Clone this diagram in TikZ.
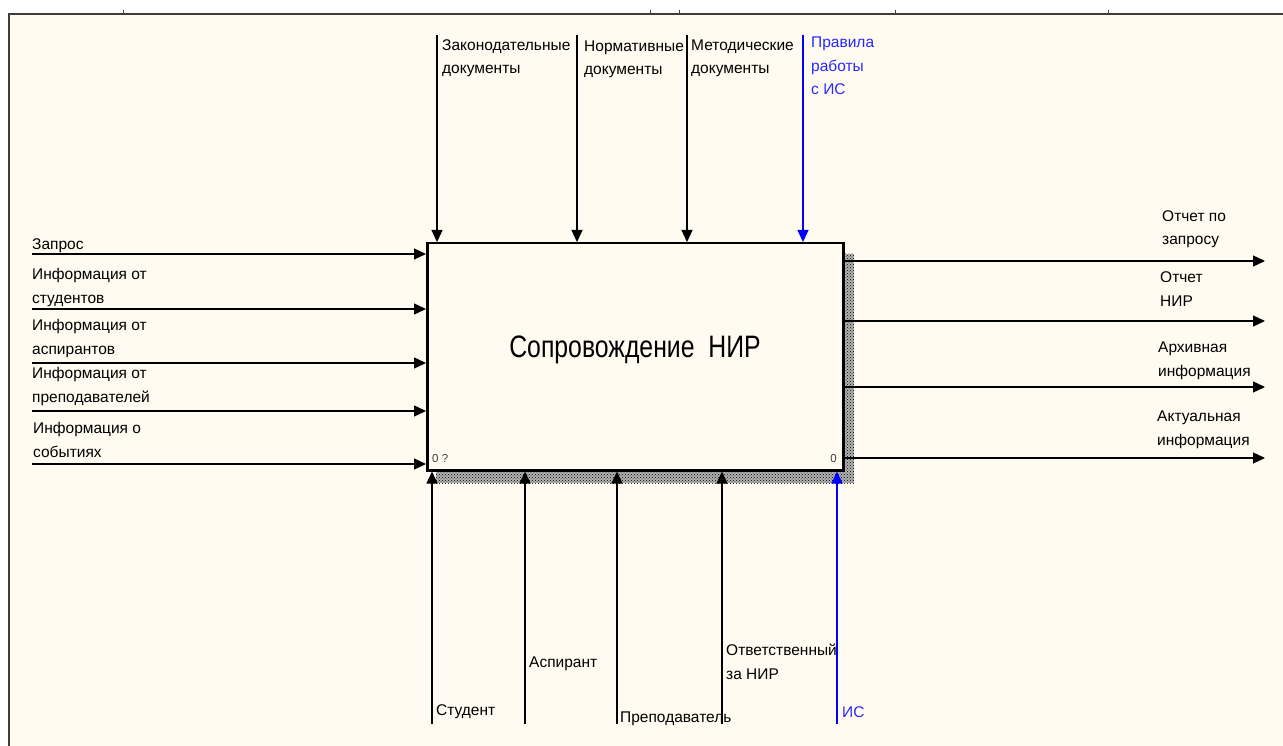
\documentclass[tikz,border=0pt]{standalone}
\usepackage{fontspec}
\setmainfont{Liberation Sans}
\usetikzlibrary{arrows.meta,patterns}
\definecolor{cream}{RGB}{255,251,240}
\definecolor{framec}{RGB}{64,60,56}
\definecolor{iblue}{RGB}{0,0,255}
\definecolor{tblue}{RGB}{40,40,255}
\begin{document}
\begin{tikzpicture}[x=1pt,y=-1pt,
  arr/.style={line width=1.3pt, -{Triangle[length=12pt,width=11pt]}},
  barr/.style={arr, iblue},
  lbl/.style={font=\fontsize{15.5}{23.5}\selectfont, anchor=base west, inner sep=0, align=left},
  blbl/.style={lbl, text=tblue},
  corner/.style={font=\fontsize{11.5}{11.5}\selectfont, inner sep=0, text=black!75}
]
\useasboundingbox (0,0) rectangle (1283,746);
\fill[cream] (9,14) rectangle (1283,746);
\draw[framec, line width=2pt] (9,746) -- (9,14) -- (1283,14);
\foreach \t in {123,650,679,895,1108} \draw[framec, line width=1pt] (\t,14) -- (\t,10);

% shadow
\fill[black!30] (436,254) rectangle (854,483);
\fill[pattern=crosshatch dots, pattern color=black] (436,254) rectangle (854,483);
% main box
\node[draw, line width=2.5pt, fill=cream, minimum width=416pt, minimum height=227pt,
      inner sep=0, anchor=north west] (box) at (426,242) {};
\node[font=\fontsize{31}{31}\selectfont, anchor=base, inner sep=0] (title) at (635,357)
  {\scalebox{0.8}[1]{Сопровождение\ \ НИР}};
\node[corner, anchor=base west] (nq) at (432,462) {0 ?};
\node[corner, anchor=base east] (nz) at (837,462) {0};

% inputs
\coordinate (i1) at (32,254);
\coordinate (i2) at (32,309);
\coordinate (i3) at (32,363);
\coordinate (i4) at (32,411);
\coordinate (i5) at (32,464);
\foreach \i in {1,...,5} \draw[arr] (i\i) -- (i\i -| box.west);
\node[lbl] (li1) at (32,250) {Запрос};
\node[lbl] (li2) at (32,303) {Информация от\\студентов};
\node[lbl] (li3) at (32,354) {Информация от\\аспирантов};
\node[lbl] (li4) at (32,402) {Информация от\\преподавателей};
\node[lbl] (li5) at (33,457) {Информация о\\событиях};

% controls
\coordinate (c1) at (437,35);
\coordinate (c2) at (577,35);
\coordinate (c3) at (687,35);
\coordinate (c4) at (803,35);
\foreach \i in {1,2,3} \draw[arr] (c\i) -- (c\i |- box.north);
\draw[barr] (c4) -- (c4 |- box.north);
\node[lbl] (lc1) at (442,74) {Законодательные\\документы};
\node[lbl] (lc2) at (584,75) {Нормативные\\документы};
\node[lbl] (lc3) at (691,74) {Методические\\документы};
\node[blbl] (lc4) at (811,95) {Правила\\работы\\с ИС};

% outputs
\coordinate (o1) at (1265,261);
\coordinate (o2) at (1265,321);
\coordinate (o3) at (1265,387);
\coordinate (o4) at (1265,458);
\foreach \i in {1,...,4} \draw[arr] (o\i -| box.east) -- (o\i);
\node[lbl] (lo1) at (1162,245) {Отчет по\\запросу};
\node[lbl] (lo2) at (1160,306) {Отчет\\НИР};
\node[lbl] (lo3) at (1158,376) {Архивная\\информация};
\node[lbl] (lo4) at (1157,445) {Актуальная\\информация};

% mechanisms
\coordinate (m1) at (432,724);
\coordinate (m2) at (525,724);
\coordinate (m3) at (617,724);
\coordinate (m4) at (722,724);
\coordinate (m5) at (837,724);
\foreach \i in {1,...,4} \draw[arr] (m\i) -- (m\i |- box.south);
\draw[barr] (m5) -- (m5 |- box.south);
\node[lbl] (lm1) at (436,715) {Студент};
\node[lbl] (lm2) at (529,667) {Аспирант};
\node[lbl] (lm3) at (620,722) {Преподаватель};
\node[lbl] (lm4) at (726,679) {Ответственный\\за НИР};
\node[blbl] (lm5) at (842,717) {ИС};
\end{tikzpicture}
\end{document}
